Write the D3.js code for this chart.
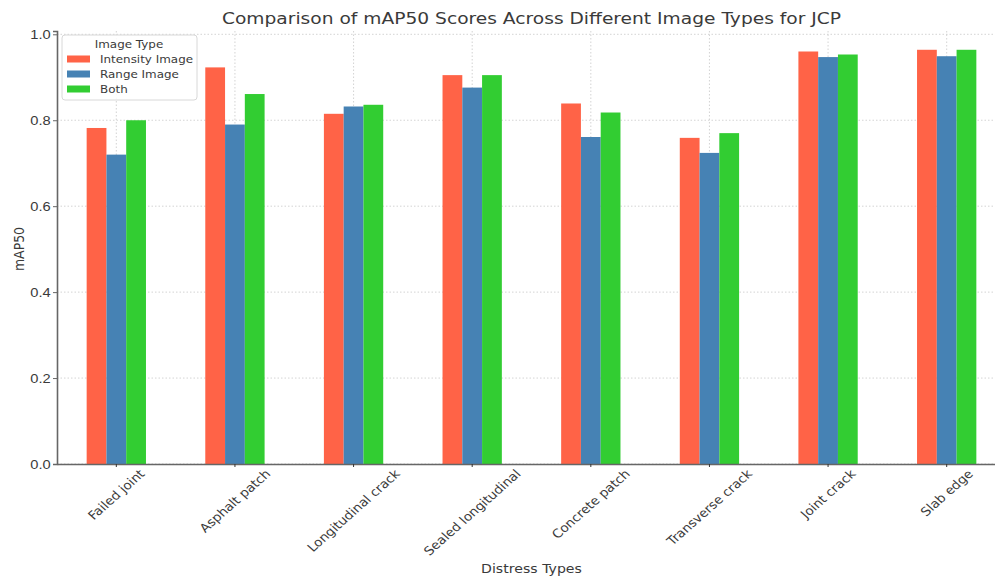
<!DOCTYPE html>
<html>
<head>
<meta charset="utf-8">
<script src="https://cdn.jsdelivr.net/npm/d3@7"></script>
<style>
  body { margin: 0; background: #fff; }
  svg { display: block; font-family: "DejaVu Sans", sans-serif; }
</style>
</head>
<body>
<svg id="chart" width="995" height="578"></svg>
<script>
// data
const categories = ["Failed joint", "Asphalt patch", "Longitudinal crack", "Sealed longitudinal",
                    "Concrete patch", "Transverse crack", "Joint crack", "Slab edge"]
const seriesNames = ["Intensity Image", "Range Image", "Both"]
const intensity = [0.782, 0.923, 0.815, 0.905, 0.839, 0.759, 0.960, 0.964]
const range = [0.720, 0.790, 0.832, 0.876, 0.761, 0.724, 0.947, 0.949]
const both = [0.800, 0.861, 0.836, 0.905, 0.818, 0.770, 0.953, 0.964]
const yTicks = [0, 0.2, 0.4, 0.6, 0.8, 1.0]
const colors = ["#FF6347", "#4682B4", "#32CD32"]

const series = [intensity, range, both]
const svg = d3.select('#chart')

// the reference picture is a bit stretched sideways, text too
const SX = 1.13

// plot area (right side runs past the window like in the reference)
const plotLeft = 57, plotRight = 1006, plotTop = 31, plotBottom = 464
const x = d3.scaleBand().domain(categories).range([plotLeft, plotRight]).paddingInner(0.5).paddingOuter(0.25)
const xSub = d3.scaleBand().domain(seriesNames).range([0, x.bandwidth()])
const y = d3.scaleLinear().domain([0, 1.0077]).range([plotBottom, plotTop])

const textColor = '#3a3a3a'
const axisColor = '#666'

// grid, dotted
const grid = svg.append('g')
grid.selectAll('.hgrid').data(yTicks).join('line')
    .attr('x1', plotLeft).attr('x2', plotRight)
    .attr('y1', d => y(d)).attr('y2', d => y(d))
    .attr('stroke', '#c8c8c8').attr('stroke-width', 0.8).attr('stroke-dasharray', '1.5,2')
grid.selectAll('.vgrid').data(categories).join('line')
    .attr('x1', d => x(d) + x.bandwidth() / 2).attr('x2', d => x(d) + x.bandwidth() / 2)
    .attr('y1', plotTop).attr('y2', plotBottom)
    .attr('stroke', '#c8c8c8').attr('stroke-width', 0.8).attr('stroke-dasharray', '1.5,2')

// bars
series.forEach((vals, i) => {
    svg.append('g').selectAll('rect')
        .data(categories.map((c, j) => ({ c: c, v: vals[j] })))
        .join('rect')
        .attr('x', d => x(d.c) + xSub(seriesNames[i]))
        .attr('width', xSub.bandwidth())
        .attr('y', d => y(d.v))
        .attr('height', d => y(0) - y(d.v))
        .attr('fill', colors[i])
})

// y axis
const yAxis = svg.append('g').attr('transform', `translate(${plotLeft},0)`)
    .call(d3.axisLeft(y).tickValues(yTicks).tickFormat(d3.format('.1f')).tickSize(4).tickPadding(1.5))
yAxis.select('.domain').attr('stroke', axisColor).attr('stroke-width', 1.6)
yAxis.selectAll('.tick line').attr('stroke', axisColor)
yAxis.selectAll('.tick text').attr('fill', textColor).style('font-size', '13px')
    .attr('transform', `scale(${SX},1)`)

// x axis
const xAxis = svg.append('g').attr('transform', `translate(0,${plotBottom})`)
    .call(d3.axisBottom(x).tickSize(3).tickSizeOuter(0).tickFormat(''))
xAxis.select('.domain').attr('stroke', axisColor).attr('stroke-width', 1.6)
xAxis.selectAll('.tick line').attr('stroke', '#333')

// rotated x tick labels, centered under each tick like matplotlib ha='center'
const fs = 12
svg.append('g').selectAll('text').data(categories).join('text')
    .text(d => d)
    .attr('fill', textColor)
    .style('font-size', fs + 'px')
    .attr('text-anchor', 'middle')
    .attr('dominant-baseline', 'central')
    .each(function (d) {
        let len = this.getComputedTextLength()
        let h = (len + fs * 1.1) * Math.SQRT1_2
        let cx = x(d) + x.bandwidth() / 2
        let cy = plotBottom + 3 + h / 2
        d3.select(this).attr('transform', `translate(${cx},${cy}) scale(${SX},1) rotate(-45)`)
    })

// title and axis labels
const midX = (plotLeft + plotRight) / 2
svg.append('text').attr('transform', `translate(${midX},24) scale(${SX},1)`)
    .attr('text-anchor', 'middle').attr('fill', textColor).style('font-size', '16.5px')
    .text('Comparison of mAP50 Scores Across Different Image Types for JCP')
svg.append('text').attr('transform', `translate(${midX},573) scale(${SX},1)`)
    .attr('text-anchor', 'middle').attr('fill', textColor).style('font-size', '12.5px')
    .text('Distress Types')
svg.append('text').attr('transform', `translate(24,249) scale(${SX},1) rotate(-90)`)
    .attr('text-anchor', 'middle').attr('fill', textColor).style('font-size', '12.5px')
    .text('mAP50')

// legend
const lg = svg.append('g').attr('transform', 'translate(62,35)')
lg.append('rect').attr('width', 135).attr('height', 65).attr('rx', 3)
    .attr('fill', 'rgba(255,255,255,0.85)').attr('stroke', '#d8d8d8')
lg.append('text').attr('transform', `translate(67,13) scale(${SX * 0.96},1)`).attr('text-anchor', 'middle')
    .attr('fill', textColor).style('font-size', '11px').text('Image Type')
seriesNames.forEach((name, i) => {
    let yy = 24 + i * 15
    lg.append('rect').attr('x', 5).attr('y', yy - 3.5).attr('width', 23).attr('height', 7).attr('fill', colors[i])
    lg.append('text').attr('transform', `translate(38,${yy}) scale(${SX * 0.96},1)`).attr('dominant-baseline', 'central')
        .attr('fill', textColor).style('font-size', '11px').text(name)
})
</script>
</body>
</html>
